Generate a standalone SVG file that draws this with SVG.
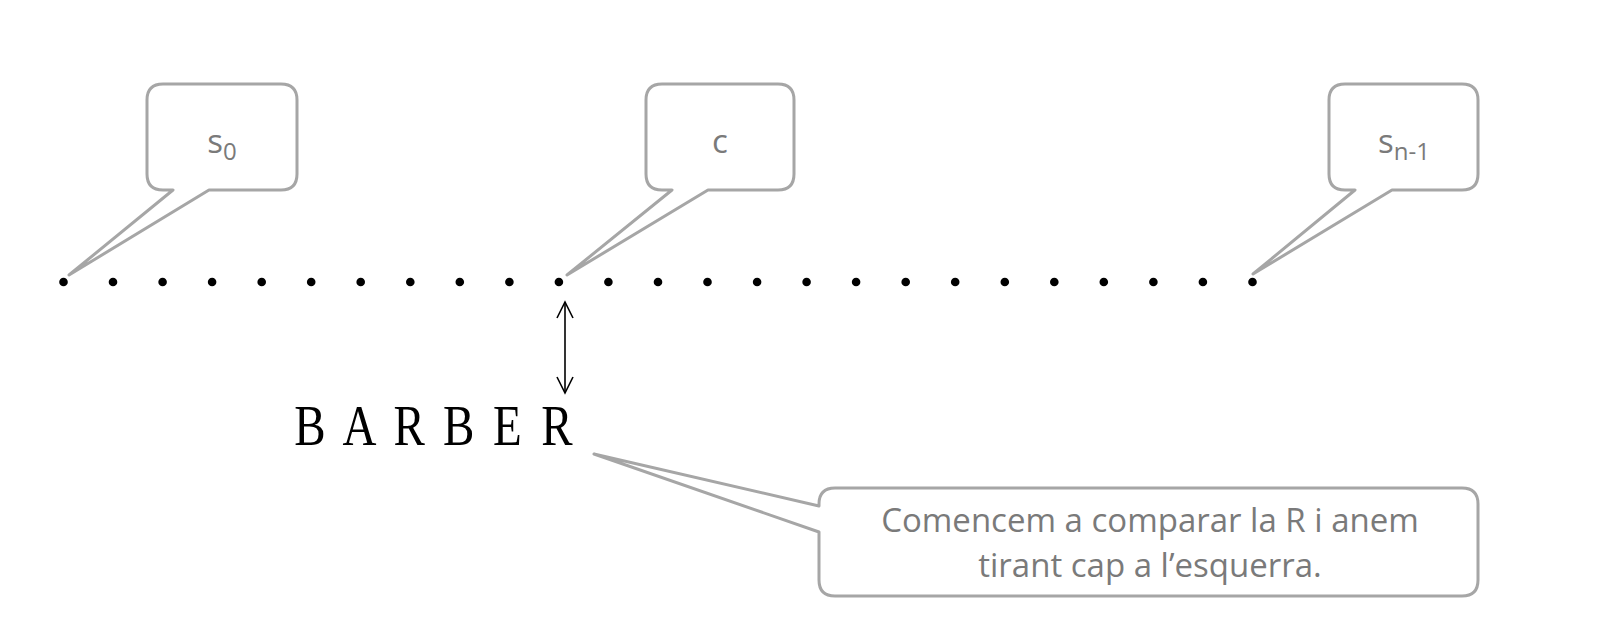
<svg xmlns="http://www.w3.org/2000/svg" width="1620" height="624" viewBox="0 0 1620 624">
<defs>
<style>
.callout{fill:#ffffff;stroke:#a6a6a6;stroke-width:3;stroke-linejoin:round}
.lbl{font-family:"Open Sans","Noto Sans",sans-serif;fill:#7a7a7a;font-size:33px;text-anchor:middle}
.dot{fill:#000}
.word{font-family:"Liberation Serif","Times New Roman",serif;font-size:56px;fill:#000;text-anchor:middle}
</style>
<marker id="ah" viewBox="0 0 20 20" refX="18" refY="10" markerWidth="20" markerHeight="20" markerUnits="userSpaceOnUse" orient="auto-start-reverse">
<path d="M2,2 L18,10 L2,18" fill="none" stroke="#000" stroke-width="1.6"/>
</marker>
</defs>
<rect width="1620" height="624" fill="#ffffff"/>
<g id="dots">
<circle class="dot" cx="63.5" cy="282" r="4.3"/>
<circle class="dot" cx="113" cy="282" r="4.3"/>
<circle class="dot" cx="162.6" cy="282" r="4.3"/>
<circle class="dot" cx="212.1" cy="282" r="4.3"/>
<circle class="dot" cx="261.7" cy="282" r="4.3"/>
<circle class="dot" cx="311.2" cy="282" r="4.3"/>
<circle class="dot" cx="360.7" cy="282" r="4.3"/>
<circle class="dot" cx="410.3" cy="282" r="4.3"/>
<circle class="dot" cx="459.8" cy="282" r="4.3"/>
<circle class="dot" cx="509.4" cy="282" r="4.3"/>
<circle class="dot" cx="558.9" cy="282" r="4.3"/>
<circle class="dot" cx="608.4" cy="282" r="4.3"/>
<circle class="dot" cx="658" cy="282" r="4.3"/>
<circle class="dot" cx="707.5" cy="282" r="4.3"/>
<circle class="dot" cx="757.1" cy="282" r="4.3"/>
<circle class="dot" cx="806.6" cy="282" r="4.3"/>
<circle class="dot" cx="856.1" cy="282" r="4.3"/>
<circle class="dot" cx="905.7" cy="282" r="4.3"/>
<circle class="dot" cx="955.2" cy="282" r="4.3"/>
<circle class="dot" cx="1004.8" cy="282" r="4.3"/>
<circle class="dot" cx="1054.3" cy="282" r="4.3"/>
<circle class="dot" cx="1103.8" cy="282" r="4.3"/>
<circle class="dot" cx="1153.4" cy="282" r="4.3"/>
<circle class="dot" cx="1202.9" cy="282" r="4.3"/>
<circle class="dot" cx="1252.5" cy="282" r="4.3"/>
</g>
<g id="callout-s0">
<path class="callout" d="M163,84 H281 Q297,84 297,100 V174 Q297,190 281,190 H209 L69,275 L173,190 H163 Q147,190 147,174 V100 Q147,84 163,84 Z"/>
<text class="lbl" x="222" y="153">s<tspan font-size="24" dy="7">0</tspan></text>
</g>
<g id="callout-c">
<path class="callout" d="M662,84 H778 Q794,84 794,100 V174 Q794,190 778,190 H708 L567,275 L672,190 H662 Q646,190 646,174 V100 Q646,84 662,84 Z"/>
<text class="lbl" x="720" y="153">c</text>
</g>
<g id="callout-sn1">
<path class="callout" d="M1345,84 H1462 Q1478,84 1478,100 V174 Q1478,190 1462,190 H1392 L1253,274 L1355,190 H1345 Q1329,190 1329,174 V100 Q1329,84 1345,84 Z"/>
<text class="lbl" x="1404" y="153">s<tspan font-size="24" dy="7">n-1</tspan></text>
</g>
<g id="word-barber" transform="scale(0.84,1)">
<text class="word" x="369 428 487 546 604 663" y="445">BARBER</text>
</g>
<g id="callout-note">
<path class="callout" d="M835,488 H1462 Q1478,488 1478,504 V580 Q1478,596 1462,596 H835 Q819,596 819,580 V532 L594,454 L819,506 V504 Q819,488 835,488 Z"/>
<text class="lbl" x="1150" y="532">Comencem a comparar la R i anem</text>
<text class="lbl" x="1150" y="577">tirant cap a l’esquerra.</text>
</g>
<g id="connectors">
<line x1="565" y1="302" x2="565" y2="393" stroke="#000" stroke-width="1.6" marker-start="url(#ah)" marker-end="url(#ah)"/>
</g>
</svg>
